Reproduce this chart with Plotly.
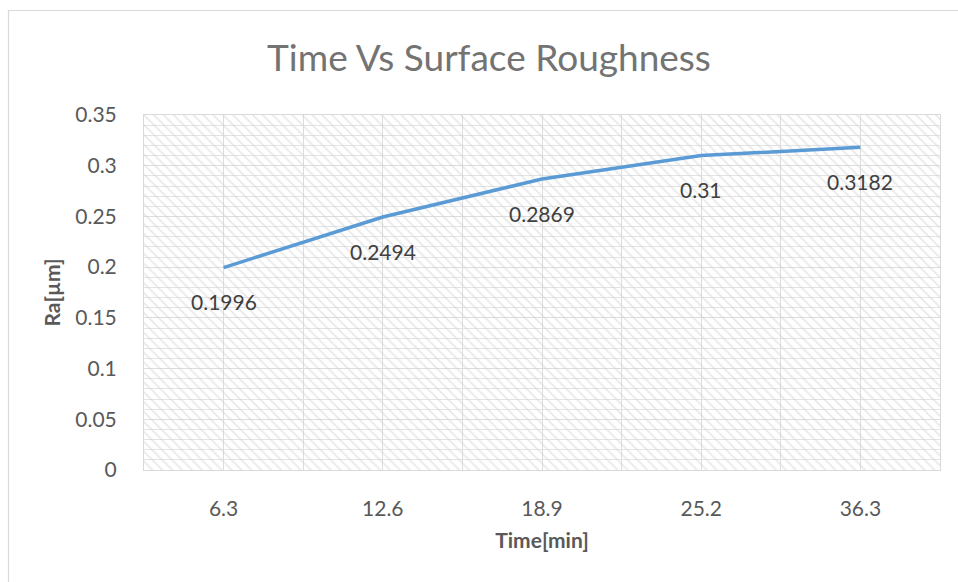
import plotly.graph_objects as go

# Machining time (min) and measured surface roughness Ra (µm)
time_labels = ["6.3", "12.6", "18.9", "25.2", "36.3"]
ra_values = [0.1996, 0.2494, 0.2869, 0.31, 0.3182]
y_ticks = [0, 0.05, 0.1, 0.15, 0.2, 0.25, 0.3, 0.35]

W, H = 958, 582
ML, MR, MT, MB = 144, 18, 115, 112
PW, PH = W - ML - MR, H - MT - MB

positions = list(range(1, len(time_labels) + 1))
font_family = "Lato, 'Open Sans', sans-serif"

fig = go.Figure()

# hatched plot-area fill
fig.add_trace(go.Bar(
    x=[3], y=[0.35], base=[0], width=[5],
    marker=dict(
        color="rgba(0,0,0,0)",
        line=dict(width=0),
        pattern=dict(shape="\\", fgcolor="#d3d3d3", bgcolor="rgba(0,0,0,0)",
                     size=7, solidity=0.25, fillmode="overlay"),
    ),
    hoverinfo="skip", showlegend=False,
))

fig.add_trace(go.Scatter(
    x=positions, y=ra_values, mode="lines",
    line=dict(color="#5B9BD5", width=3.5),
    showlegend=False,
))

# data labels beneath each point
for xv, yv in zip(positions, ra_values):
    fig.add_annotation(
        x=xv, y=yv, text=f"{yv:g}", showarrow=False,
        yshift=-34, font=dict(family=font_family, size=21, color="#404040"),
    )

# outer chart border
fig.add_shape(
    type="rect", xref="paper", yref="paper",
    x0=(8.5 - ML) / PW, x1=(W + 20 - ML) / PW,
    y0=-(H + 20 - MT - PH) / PH, y1=(H - 10.5 - MB) / PH,
    line=dict(color="#d9d9d9", width=1.2), fillcolor="rgba(0,0,0,0)",
)

fig.update_layout(
    width=W, height=H,
    margin=dict(l=ML, r=MR, t=MT, b=MB),
    paper_bgcolor="white", plot_bgcolor="white",
    bargap=0,
    title=dict(
        text="Time Vs Surface Roughness",
        x=(489 - ML) / PW, xref="paper", xanchor="center",
        y=1 - 58 / H, yanchor="middle",
        font=dict(family=font_family, size=37, color="#737373"),
    ),
    font=dict(family=font_family, color="#595959"),
    xaxis=dict(
        range=[0.5, 5.5],
        tickmode="array", tickvals=positions, ticktext=time_labels,
        tickfont=dict(size=21, color="#595959"),
        showgrid=True, gridcolor="#dcdcdc", gridwidth=1,
        minor=dict(tickmode="linear", tick0=0.5, dtick=1, showgrid=True,
                   gridcolor="#dcdcdc", gridwidth=1),
        showline=True, linecolor="#d9d9d9", linewidth=1, mirror=True,
        ticks="", ticklabelstandoff=20,
        zeroline=False, fixedrange=True,
        title=dict(text="<b>Time[min]</b>", standoff=14,
                   font=dict(size=21, color="#595959")),
    ),
    yaxis=dict(
        range=[0, 0.35],
        tickmode="array", tickvals=y_ticks, ticktext=[f"{v:g}" for v in y_ticks],
        tickfont=dict(size=21, color="#595959"),
        showgrid=True, gridcolor="#dcdcdc", gridwidth=1,
        minor=dict(tickmode="linear", tick0=0, dtick=0.01, showgrid=True,
                   gridcolor="#e3e3e3", gridwidth=1),
        showline=True, linecolor="#d9d9d9", linewidth=1, mirror=True,
        ticks="", ticklabelstandoff=22,
        zeroline=False, fixedrange=True,
        title=dict(text="<b>Ra[µm]</b>", standoff=8,
                   font=dict(size=21, color="#595959")),
    ),
)

fig.write_html("out.html")
